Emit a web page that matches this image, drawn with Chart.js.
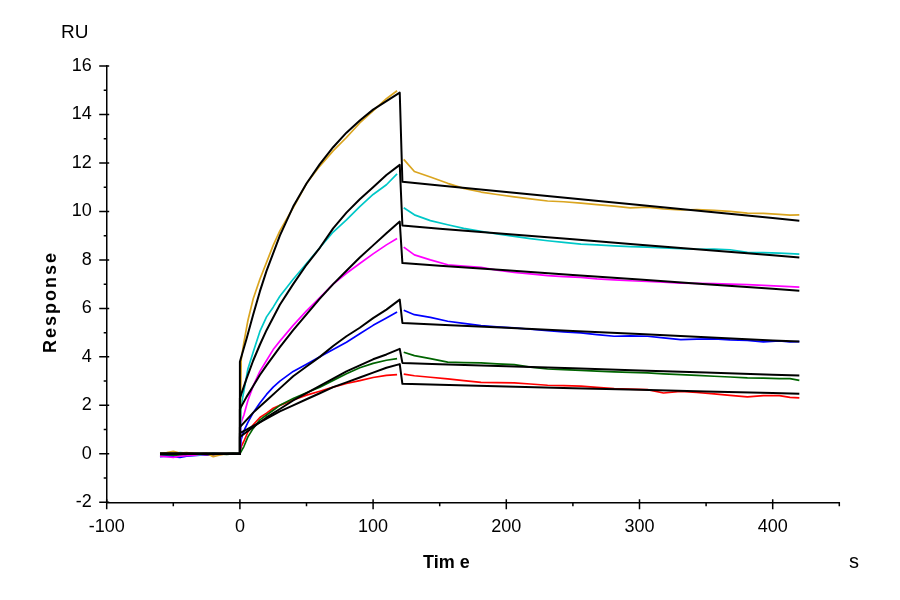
<!DOCTYPE html>
<html>
<head>
<meta charset="utf-8">
<title>Sensorgram</title>
<script src="https://cdn.jsdelivr.net/npm/chart.js@4.4.0/dist/chart.umd.min.js"></script>
<style>
  html, body { margin: 0; padding: 0; background: #fff; }
  #wrap { width: 900px; height: 600px; }
</style>
</head>
<body>
<div id="wrap"><canvas id="sprChart" width="900" height="600"></canvas></div>
<script>
// Thời gian (s) cho từng pha
const baseTime = [-60, -55, -50, -45, -40, -35, -30, -25, -20, -15, -10, -5, 0];
const assocTime = [1, 3, 6, 10, 15, 20, 25, 30, 40, 50, 60, 70, 80, 90, 100, 110, 118];
const dissocTime = [123, 131, 143, 156, 168, 181, 193, 206, 218, 231, 243, 256, 268, 281,
                    293, 306, 318, 331, 343, 356, 368, 381, 393, 405, 413, 420];
const fitAssocTime = [0, 5, 10, 15, 20, 30, 40, 50, 60, 70, 80, 90, 100, 110, 120];
const fitDissocTime = [122, 150, 200, 250, 300, 350, 400, 420];

// Đường cơ sở (RU)
const goldBase    = [0.02, 0.05, 0.10, 0.03, 0.05, 0.02, 0.00, 0.02, -0.12, -0.05, 0.00, 0.02, 0];
const cyanBase    = [0.00, 0.02, 0.00, 0.05, 0.03, 0.00, -0.05, 0.00, 0.02, 0.00, 0.00, 0.03, 0];
const magentaBase = [-0.10, -0.12, -0.15, -0.10, -0.08, -0.05, -0.05, -0.02, 0.00, -0.02, 0.00, 0.00, 0];
const blueBase    = [-0.12, -0.10, -0.12, -0.15, -0.10, -0.08, -0.05, -0.03, -0.02, 0.00, 0.00, 0.00, 0];
const greenBase   = [-0.05, -0.06, -0.04, -0.05, -0.03, -0.04, -0.02, -0.03, -0.02, 0.00, -0.02, 0.00, 0];
const redBase     = [-0.06, -0.05, -0.07, -0.04, -0.05, -0.03, -0.04, -0.02, -0.03, -0.01, 0.00, 0.00, 0];

// Pha liên kết (dữ liệu đo)
const goldAssoc    = [3.9, 4.6, 5.5, 6.4, 7.2, 7.9, 8.6, 9.2, 10.15, 11.15, 11.87, 12.5, 13.05, 13.65, 14.15, 14.65, 14.98];
const cyanAssoc    = [2.0, 2.6, 3.5, 4.2, 5.05, 5.65, 6.05, 6.5, 7.2, 7.85, 8.5, 9.15, 9.65, 10.2, 10.7, 11.1, 11.55];
const magentaAssoc = [1.3, 1.6, 2.2, 2.8, 3.4, 3.85, 4.3, 4.65, 5.3, 5.9, 6.45, 7.0, 7.45, 7.85, 8.25, 8.62, 8.88];
const blueAssoc    = [0.6, 0.95, 1.3, 1.7, 2.1, 2.45, 2.75, 3.0, 3.4, 3.7, 4.0, 4.3, 4.6, 4.95, 5.3, 5.6, 5.85];
const greenAssoc   = [0.1, 0.3, 0.7, 1.05, 1.4, 1.6, 1.8, 2.0, 2.28, 2.52, 2.75, 3.03, 3.3, 3.55, 3.73, 3.86, 3.93];
const redAssoc     = [0.3, 0.52, 0.9, 1.2, 1.5, 1.68, 1.88, 2.0, 2.22, 2.42, 2.58, 2.75, 2.9, 3.02, 3.15, 3.24, 3.27];

// Pha phân ly (dữ liệu đo)
const goldDissoc    = [12.15, 11.65, 11.42, 11.16, 10.95, 10.8, 10.7, 10.6, 10.52, 10.43, 10.4, 10.34, 10.28,
                       10.22, 10.15, 10.18, 10.1, 10.06, 10.08, 10.04, 10.0, 9.93, 9.92, 9.88, 9.85, 9.86];
const cyanDissoc    = [10.15, 9.86, 9.62, 9.45, 9.3, 9.18, 9.07, 8.97, 8.88, 8.79, 8.72, 8.65, 8.62,
                       8.58, 8.55, 8.53, 8.5, 8.46, 8.44, 8.45, 8.42, 8.31, 8.3, 8.28, 8.26, 8.24];
const magentaDissoc = [8.53, 8.21, 8.0, 7.8, 7.74, 7.69, 7.58, 7.48, 7.42, 7.35, 7.31, 7.28, 7.22,
                       7.18, 7.14, 7.11, 7.08, 7.04, 7.03, 7.02, 7.0, 6.98, 6.95, 6.92, 6.9, 6.88];
const blueDissoc    = [5.92, 5.74, 5.63, 5.47, 5.38, 5.29, 5.24, 5.2, 5.14, 5.08, 5.03, 4.99, 4.92,
                       4.85, 4.87, 4.85, 4.78, 4.71, 4.73, 4.74, 4.7, 4.68, 4.62, 4.66, 4.62, 4.63];
const greenDissoc   = [4.19, 4.05, 3.93, 3.78, 3.76, 3.75, 3.71, 3.68, 3.58, 3.5, 3.47, 3.44, 3.41,
                       3.38, 3.36, 3.34, 3.3, 3.27, 3.24, 3.2, 3.17, 3.13, 3.12, 3.1, 3.1, 3.03];
const redDissoc     = [3.29, 3.22, 3.16, 3.09, 3.02, 2.95, 2.94, 2.93, 2.88, 2.83, 2.81, 2.79, 2.74,
                       2.69, 2.67, 2.65, 2.51, 2.58, 2.53, 2.47, 2.41, 2.35, 2.4, 2.4, 2.33, 2.31];

// Đường fit (màu đen)
const goldFitAssoc    = [3.8, 4.75, 5.75, 6.7, 7.55, 9.0, 10.2, 11.15, 11.95, 12.65, 13.25, 13.75, 14.2, 14.55, 14.9];
const cyanFitAssoc    = [2.3, 3.1, 3.85, 4.5, 5.1, 6.15, 7.0, 7.8, 8.5, 9.3, 9.95, 10.5, 11.0, 11.5, 11.92];
const magentaFitAssoc = [1.85, 2.35, 2.8, 3.25, 3.65, 4.4, 5.1, 5.75, 6.4, 7.0, 7.55, 8.1, 8.6, 9.1, 9.58];
const blueFitAssoc    = [1.1, 1.4, 1.7, 1.95, 2.2, 2.7, 3.2, 3.6, 4.0, 4.45, 4.85, 5.2, 5.6, 5.95, 6.36];
const greenFitAssoc   = [0.7, 0.9, 1.1, 1.3, 1.5, 1.85, 2.2, 2.5, 2.8, 3.1, 3.4, 3.65, 3.9, 4.1, 4.33];
const redFitAssoc     = [0.85, 1.0, 1.15, 1.3, 1.45, 1.75, 2.0, 2.25, 2.5, 2.75, 2.95, 3.15, 3.35, 3.55, 3.7];

const goldFitDissoc    = [11.22, 11.07, 10.8, 10.53, 10.27, 10.0, 9.73, 9.62];
const cyanFitDissoc    = [9.42, 9.29, 9.07, 8.85, 8.63, 8.41, 8.19, 8.1];
const magentaFitDissoc = [7.87, 7.76, 7.57, 7.38, 7.19, 7.0, 6.81, 6.73];
const blueFitDissoc    = [5.4, 5.33, 5.2, 5.07, 4.94, 4.81, 4.68, 4.63];
const greenFitDissoc   = [3.75, 3.70, 3.61, 3.53, 3.44, 3.35, 3.26, 3.23];
const redFitDissoc     = [2.89, 2.85, 2.78, 2.71, 2.64, 2.57, 2.51, 2.48];

const curveColors = ['#DAA520', '#00C8C8', '#FF00FF', '#0000FF', '#006400', '#FF0000'];

const FONT = 'Liberation Sans, Arial, sans-serif';

/**
 * Ghép các mảng thời gian/giá trị thành điểm {x, y}
 */
function zipPoints(times, values) {
    return times.map((t, i) => ({ x: t, y: values[i] }));
}

// Dữ liệu đo: baseline -> liên kết -> (ngắt) -> phân ly
function buildCurve(base, assoc, dissoc) {
    return []
        .concat(zipPoints(baseTime, base))
        .concat(zipPoints(assocTime, assoc))
        .concat([{ x: 120, y: null }])
        .concat(zipPoints(dissocTime, dissoc));
}

// Đường fit: baseline 0, nhảy ở t=0, đỉnh ở t=120, rơi xuống rồi phân ly
function buildFit(assoc, dissoc) {
    return [{ x: -60, y: 0 }, { x: 0, y: 0 }]
        .concat(zipPoints(fitAssocTime, assoc))
        .concat(zipPoints(fitDissocTime, dissoc));
}

const measured = [
    buildCurve(goldBase, goldAssoc, goldDissoc),
    buildCurve(cyanBase, cyanAssoc, cyanDissoc),
    buildCurve(magentaBase, magentaAssoc, magentaDissoc),
    buildCurve(blueBase, blueAssoc, blueDissoc),
    buildCurve(greenBase, greenAssoc, greenDissoc),
    buildCurve(redBase, redAssoc, redDissoc)
];
const fits = [
    buildFit(goldFitAssoc, goldFitDissoc),
    buildFit(cyanFitAssoc, cyanFitDissoc),
    buildFit(magentaFitAssoc, magentaFitDissoc),
    buildFit(blueFitAssoc, blueFitDissoc),
    buildFit(greenFitAssoc, greenFitDissoc),
    buildFit(redFitAssoc, redFitDissoc)
];

const datasets = [];
fits.forEach(pts => datasets.push({
    data: pts, borderColor: '#000', borderWidth: 2, pointRadius: 0,
    tension: 0, order: 0
}));
measured.forEach((pts, i) => datasets.push({
    data: pts, borderColor: curveColors[i], borderWidth: 1.7, pointRadius: 0,
    tension: 0, spanGaps: false, order: 1
}));

// Vạch chia trục + nhãn chữ
const axisDecor = {
    id: 'axisDecor',
    afterDraw(chart) {
        const ctx = chart.ctx;
        const area = chart.chartArea;
        const xs = chart.scales.x;
        const ys = chart.scales.y;
        ctx.save();
        ctx.strokeStyle = '#000';
        ctx.lineWidth = 1.5;
        ctx.beginPath();
        for (let v = -100; v <= 450; v += 50) {
            const px = xs.getPixelForValue(v);
            const major = v % 100 === 0;
            ctx.moveTo(px, area.bottom - (major ? 3 : 0));
            ctx.lineTo(px, area.bottom + (major ? 7 : 4));
        }
        for (let v = -2; v <= 16; v += 1) {
            const py = ys.getPixelForValue(v);
            const major = v % 2 === 0;
            ctx.moveTo(area.left - (major ? 7.5 : 3), py);
            ctx.lineTo(area.left + (major ? 2.5 : 0), py);
        }
        ctx.stroke();

        ctx.fillStyle = '#000';
        ctx.textBaseline = 'alphabetic';
        ctx.textAlign = 'left';
        ctx.font = '19px ' + FONT;
        ctx.fillText('RU', 61, 38);
        ctx.font = '20px ' + FONT;
        ctx.fillText('s', 849, 568);
        ctx.font = 'bold 18px ' + FONT;
        ctx.fillText('Tim e', 423, 568);

        ctx.translate(56, 302);
        ctx.rotate(-Math.PI / 2);
        ctx.textAlign = 'center';
        ctx.letterSpacing = '2px';
        ctx.fillText('Response', 0, 0);
        ctx.restore();
    }
};

new Chart(document.getElementById('sprChart'), {
    type: 'line',
    data: { datasets: datasets },
    options: {
        responsive: false,
        animation: false,
        layout: { padding: { left: 0, right: 60.7, top: 66, bottom: 0 } },
        plugins: { legend: { display: false }, tooltip: { enabled: false } },
        elements: { line: { borderJoinStyle: 'round' } },
        scales: {
            x: {
                type: 'linear',
                min: -100,
                max: 450,
                afterFit(scale) { scale.height = 97.7; },
                grid: { display: false, drawTicks: false },
                border: { display: true, color: '#000', width: 1.5 },
                ticks: {
                    stepSize: 50,
                    autoSkip: false,
                    maxRotation: 0,
                    padding: 14,
                    color: '#000',
                    font: { family: FONT, size: 18 },
                    callback: v => (v % 100 === 0 ? String(v) : '')
                }
            },
            y: {
                type: 'linear',
                min: -2,
                max: 16,
                afterFit(scale) { scale.width = 106.7; },
                grid: { display: false, drawTicks: false },
                border: { display: true, color: '#000', width: 1.5 },
                ticks: {
                    stepSize: 1,
                    autoSkip: false,
                    padding: 15,
                    color: '#000',
                    font: { family: FONT, size: 18 },
                    callback: v => (v % 2 === 0 ? String(v) : '')
                }
            }
        }
    },
    plugins: [axisDecor]
});
</script>
</body>
</html>
